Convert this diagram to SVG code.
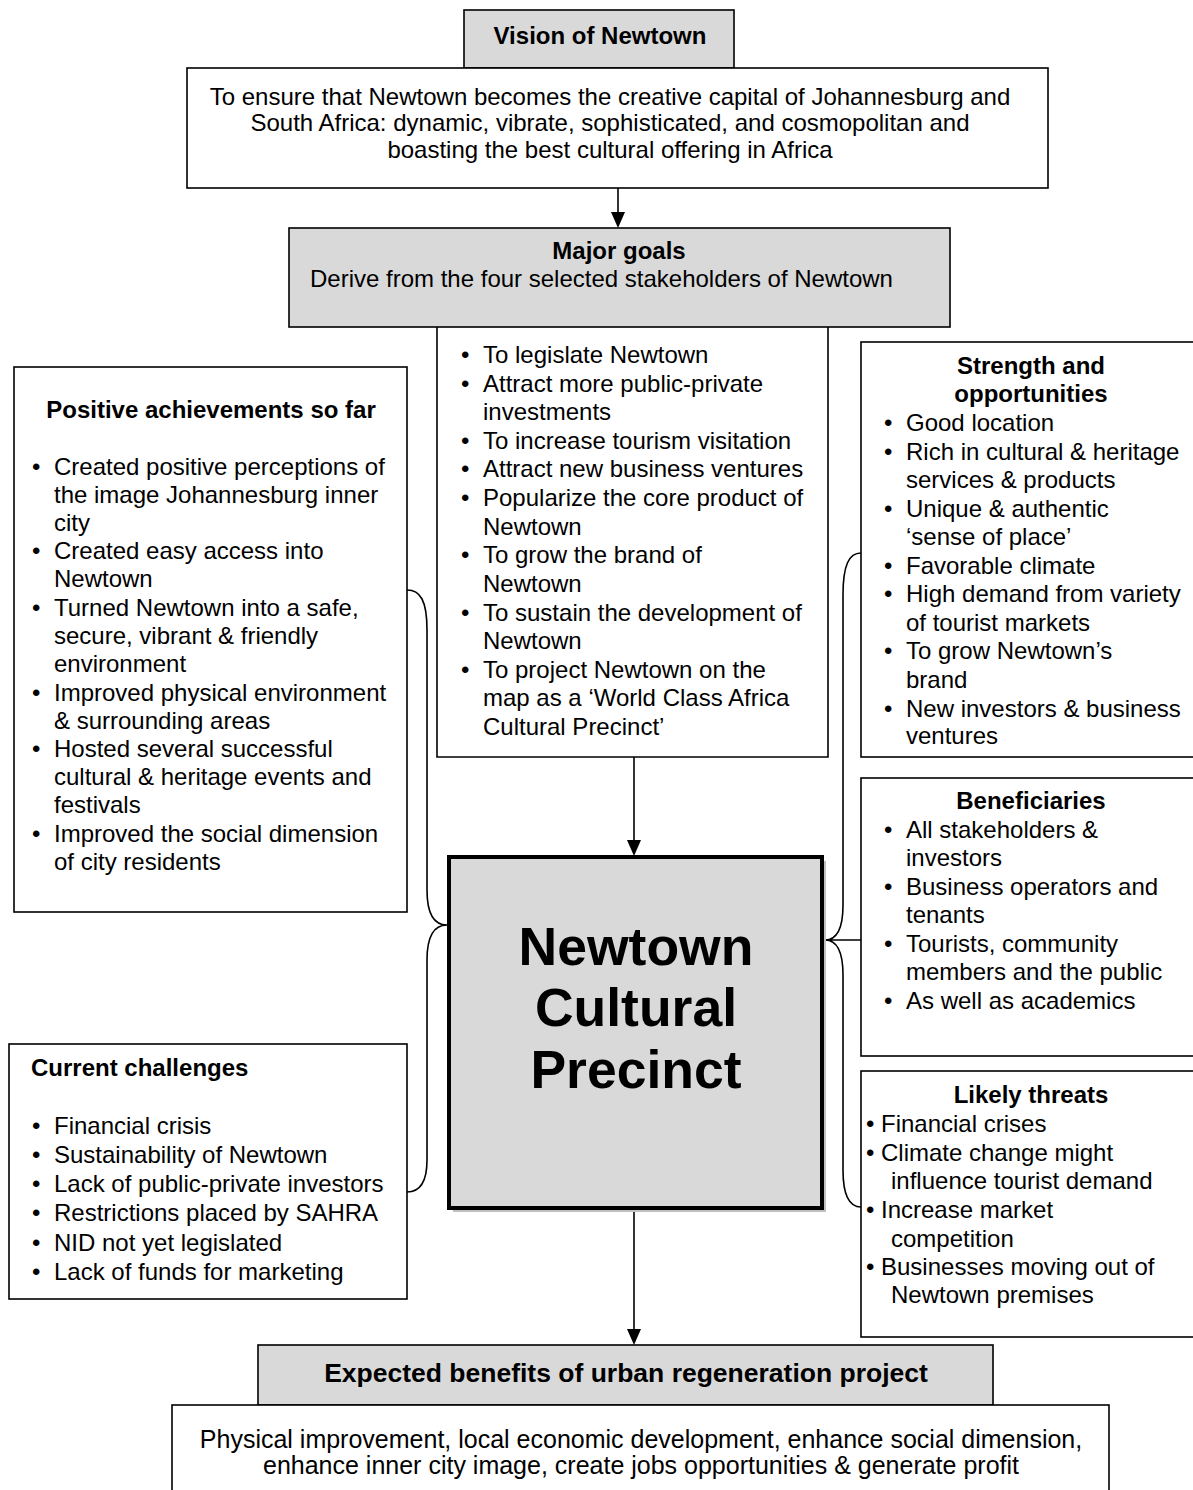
<svg xmlns="http://www.w3.org/2000/svg" width="1193" height="1490" viewBox="0 0 1193 1490">
<style>
text{font-family:"Liberation Sans",Arial,sans-serif;font-size:24px;fill:#000}
.b{font-weight:bold}
.c{text-anchor:middle}
.box{fill:#fff;stroke:#000;stroke-width:1.6}
.gbox{fill:#d9d9d9;stroke:#000;stroke-width:1.6}
.ln{fill:none;stroke:#000;stroke-width:1.6}
.big{font-size:53.5px;font-weight:bold;text-anchor:middle}
.lg{font-size:25px}
</style>
<rect width="1193" height="1490" fill="#fff"/>

<g id="connectors">
<line class="ln" x1="618" y1="188" x2="618" y2="212"/>
<path d="M611,212 L625,212 L618,228 Z" fill="#000"/>
<line class="ln" x1="634" y1="757" x2="634" y2="840"/>
<path d="M627,840 L641,840 L634,856 Z" fill="#000"/>
<line class="ln" x1="634" y1="1212" x2="634" y2="1329"/>
<path d="M627,1329 L641,1329 L634,1345 Z" fill="#000"/>
<path class="ln" d="M407,590 C420,590 427,600 427,630 L427,890 C427,912 433,925 447,925 C433,925 427,938 427,960 L427,1160 C427,1182 420,1192 407,1192"/>
<path class="ln" d="M861,553 C849,553 843,565 843,595 L843,905 C843,928 837,940 825,940 L861,940 M825,940 C837,940 843,952 843,975 L843,1170 C843,1195 849,1207 861,1207"/>
</g>

<g id="vision-title">
<rect class="gbox" x="464" y="10" width="270" height="58"/>
<text class="b c" x="600" y="44">Vision of Newtown</text>
</g>

<g id="vision-text">
<rect class="box" x="187" y="68" width="861" height="120"/>
<text class="c" x="610" y="105">To ensure that Newtown becomes the creative capital of Johannesburg and</text>
<text class="c" x="610" y="131">South Africa: dynamic, vibrate, sophisticated, and cosmopolitan and</text>
<text class="c" x="610" y="158">boasting the best cultural offering in Africa</text>
</g>

<g id="major-goals">
<rect class="gbox" x="289" y="228" width="661" height="99"/>
<text class="b c" x="619" y="259">Major goals</text>
<text x="310" y="287">Derive from the four selected stakeholders of Newtown</text>
</g>

<g id="goals-list">
<path class="ln" d="M437,327 L437,757 L828,757 L828,327"/>
<text x="461" y="363">•</text><text x="483" y="363">To legislate Newtown</text>
<text x="461" y="392">•</text><text x="483" y="392">Attract more public-private</text>
<text x="483" y="420">investments</text>
<text x="461" y="449">•</text><text x="483" y="449">To increase tourism visitation</text>
<text x="461" y="477">•</text><text x="483" y="477">Attract new business ventures</text>
<text x="461" y="506">•</text><text x="483" y="506">Popularize the core product of</text>
<text x="483" y="535">Newtown</text>
<text x="461" y="563">•</text><text x="483" y="563">To grow the brand of</text>
<text x="483" y="592">Newtown</text>
<text x="461" y="621">•</text><text x="483" y="621">To sustain the development of</text>
<text x="483" y="649">Newtown</text>
<text x="461" y="678">•</text><text x="483" y="678">To project Newtown on the</text>
<text x="483" y="706">map as a ‘World Class Africa</text>
<text x="483" y="735">Cultural Precinct’</text>
</g>

<g id="positive-achievements">
<rect class="box" x="14" y="367" width="393" height="545"/>
<text class="b c" x="211" y="418">Positive achievements so far</text>
<text x="32" y="475">•</text><text x="54" y="475">Created positive perceptions of</text>
<text x="54" y="503">the image Johannesburg inner</text>
<text x="54" y="531">city</text>
<text x="32" y="559">•</text><text x="54" y="559">Created easy access into</text>
<text x="54" y="587">Newtown</text>
<text x="32" y="616">•</text><text x="54" y="616">Turned Newtown into a safe,</text>
<text x="54" y="644">secure, vibrant &amp; friendly</text>
<text x="54" y="672">environment</text>
<text x="32" y="701">•</text><text x="54" y="701">Improved physical environment</text>
<text x="54" y="729">&amp; surrounding areas</text>
<text x="32" y="757">•</text><text x="54" y="757">Hosted several successful</text>
<text x="54" y="785">cultural &amp; heritage events and</text>
<text x="54" y="813">festivals</text>
<text x="32" y="842">•</text><text x="54" y="842">Improved the social dimension</text>
<text x="54" y="870">of city residents</text>
</g>

<g id="current-challenges">
<rect class="box" x="9" y="1044" width="398" height="255"/>
<text class="b" x="31" y="1076">Current challenges</text>
<text x="32" y="1134">•</text><text x="54" y="1134">Financial crisis</text>
<text x="32" y="1163">•</text><text x="54" y="1163">Sustainability of Newtown</text>
<text x="32" y="1192">•</text><text x="54" y="1192">Lack of public-private investors</text>
<text x="32" y="1221">•</text><text x="54" y="1221">Restrictions placed by SAHRA</text>
<text x="32" y="1251">•</text><text x="54" y="1251">NID not yet legislated</text>
<text x="32" y="1280">•</text><text x="54" y="1280">Lack of funds for marketing</text>
</g>

<g id="newtown-cultural-precinct">
<rect x="453" y="861" width="373" height="351" fill="#c0c0c0"/>
<rect x="449" y="857" width="373" height="351" fill="#d9d9d9" stroke="#000" stroke-width="4"/>
<text class="big" x="636" y="965">Newtown</text>
<text class="big" x="636" y="1026">Cultural</text>
<text class="big" x="636" y="1088">Precinct</text>
</g>

<g id="strength-opportunities">
<rect class="box" x="861" y="342" width="336" height="415"/>
<text class="b c" x="1031" y="374">Strength and</text>
<text class="b c" x="1031" y="402">opportunities</text>
<text x="884" y="431">•</text><text x="906" y="431">Good location</text>
<text x="884" y="460">•</text><text x="906" y="460">Rich in cultural &amp; heritage</text>
<text x="906" y="488">services &amp; products</text>
<text x="884" y="517">•</text><text x="906" y="517">Unique &amp; authentic</text>
<text x="906" y="545">‘sense of place’</text>
<text x="884" y="574">•</text><text x="906" y="574">Favorable climate</text>
<text x="884" y="602">•</text><text x="906" y="602">High demand from variety</text>
<text x="906" y="631">of tourist markets</text>
<text x="884" y="659">•</text><text x="906" y="659">To grow Newtown’s</text>
<text x="906" y="688">brand</text>
<text x="884" y="717">•</text><text x="906" y="717">New investors &amp; business</text>
<text x="906" y="744">ventures</text>
</g>

<g id="beneficiaries">
<rect class="box" x="861" y="778" width="336" height="278"/>
<text class="b c" x="1031" y="809">Beneficiaries</text>
<text x="884" y="838">•</text><text x="906" y="838">All stakeholders &amp;</text>
<text x="906" y="866">investors</text>
<text x="884" y="895">•</text><text x="906" y="895">Business operators and</text>
<text x="906" y="923">tenants</text>
<text x="884" y="952">•</text><text x="906" y="952">Tourists, community</text>
<text x="906" y="980">members and the public</text>
<text x="884" y="1009">•</text><text x="906" y="1009">As well as academics</text>
</g>

<g id="likely-threats">
<rect class="box" x="861" y="1071" width="336" height="266"/>
<text class="b c" x="1031" y="1103">Likely threats</text>
<text x="866" y="1132">•</text><text x="881" y="1132">Financial crises</text>
<text x="866" y="1161">•</text><text x="881" y="1161">Climate change might</text>
<text x="891" y="1189">influence tourist demand</text>
<text x="866" y="1218">•</text><text x="881" y="1218">Increase market</text>
<text x="891" y="1247">competition</text>
<text x="866" y="1275">•</text><text x="881" y="1275">Businesses moving out of</text>
<text x="891" y="1303">Newtown premises</text>
</g>

<g id="expected-benefits-title">
<rect class="gbox" x="258" y="1345" width="735" height="60"/>
<text class="b c" x="626" y="1382" style="font-size:26.5px">Expected benefits of urban regeneration project</text>
</g>

<g id="expected-benefits-text">
<rect class="box" x="172" y="1405" width="937" height="95"/>
<text class="c lg" x="641" y="1448">Physical improvement, local economic development, enhance social dimension,</text>
<text class="c lg" x="641" y="1474">enhance inner city image, create jobs opportunities &amp; generate profit</text>
</g>
</svg>
